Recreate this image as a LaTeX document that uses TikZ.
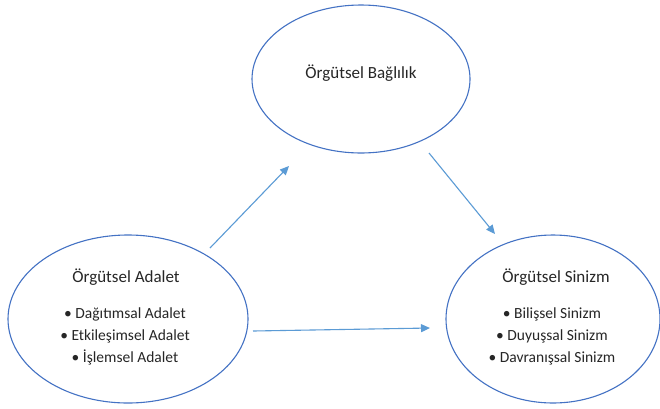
\documentclass[tikz,border=0pt]{standalone}
\usepackage{fontspec}
\setmainfont{Carlito}
\usetikzlibrary{arrows.meta,shapes.geometric}
\definecolor{ellblue}{HTML}{4472C4}
\definecolor{arrblue}{HTML}{5B9BD5}
\definecolor{txt}{HTML}{262626}
\tikzset{
  oval/.style={ellipse, draw=ellblue, line width=1.1pt, inner sep=0pt},
  title/.style={text=txt, font=\fontsize{17}{20}\selectfont, inner sep=0pt},
  items/.style={text=txt, font=\fontsize{15.5}{22}\selectfont, align=center, inner sep=0pt},
  link/.style={draw=arrblue, line width=1.1pt, -{Triangle[length=9pt,width=8pt]}}
}
\begin{document}
\begin{tikzpicture}[x=1pt,y=-1pt]
\useasboundingbox (0,0) rectangle (660,408);
\fill[white] (0,0) rectangle (660,408);
% ellipses
\node[oval, minimum width=218pt, minimum height=148pt] (bag) at (361,79) {};
\node[oval, minimum width=240pt, minimum height=168pt] (ada) at (128,319) {};
\node[oval, minimum width=214pt, minimum height=168pt] (sin) at (553,319) {};
% texts
\node[title] (bagt) at (361,73) {Örgütsel Bağlılık};
\node[title] (adat) at (126,277) {Örgütsel Adalet};
\node[items] (adai) at (125,336) {• Dağıtımsal Adalet\\• Etkileşimsel Adalet\\• İşlemsel Adalet};
\node[title] (sint) at (556,277) {Örgütsel Sinizm};
\node[items] (sini) at (552,336) {• Bilişsel Sinizm\\• Duyuşsal Sinizm\\• Davranışsal Sinizm};
% connector ends
\coordinate (a1s) at (210,248);
\coordinate (a1e) at (289,166);
\coordinate (a2s) at (429,153);
\coordinate (a2e) at (495,234);
\coordinate (a3s) at (253,331);
\coordinate (a3e) at (430,328);
\draw[link] (a1s) -- (a1e);
\draw[link] (a2s) -- (a2e);
\draw[link] (a3s) -- (a3e);
\end{tikzpicture}
\end{document}
